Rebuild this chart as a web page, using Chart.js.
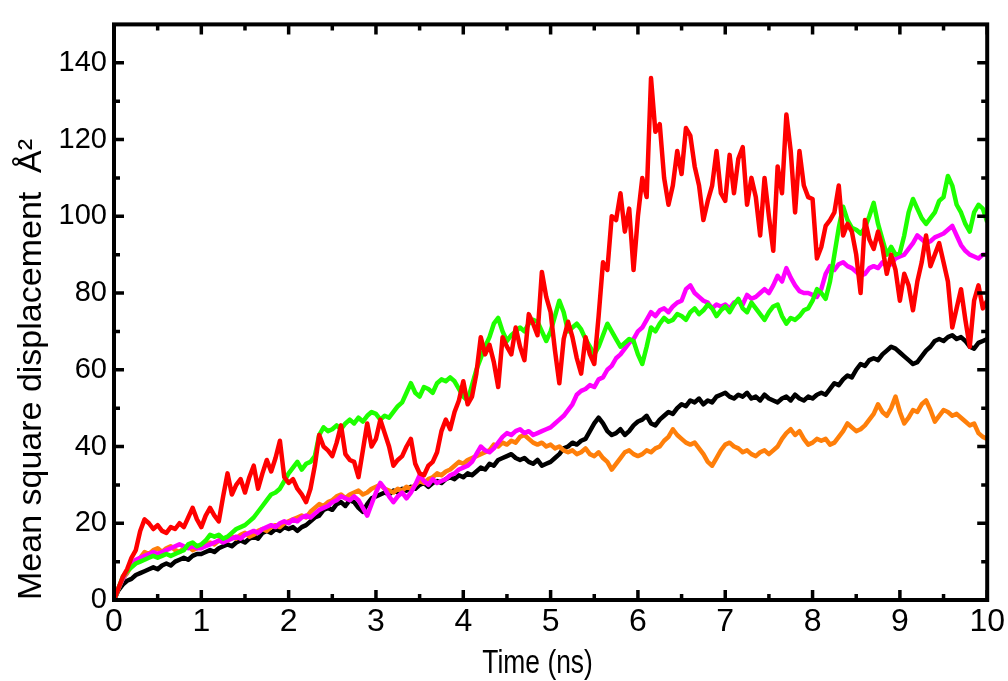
<!DOCTYPE html>
<html>
<head>
<meta charset="utf-8">
<title>Mean square displacement</title>
<script src="https://cdn.jsdelivr.net/npm/chart.js@4.4.1/dist/chart.umd.min.js"></script>
<style>
  html, body { margin: 0; padding: 0; background: #ffffff; }
  canvas { display: block; }
</style>
</head>
<body>
<canvas id="msd" width="1008" height="681"></canvas>
<script>
// Sampling interval of the trajectories (ns)
const sampleStepNs = 0.05;

// Axis tick values and titles
const xMajorTicks = [0, 1, 2, 3, 4, 5, 6, 7, 8, 9, 10];
const xMinorTicks = [0.5, 1.5, 2.5, 3.5, 4.5, 5.5, 6.5, 7.5, 8.5, 9.5];
const yMajorTicks = [0, 20, 40, 60, 80, 100, 120, 140];
const yMinorTicks = [10, 30, 50, 70, 90, 110, 130];
const xAxisTitle = 'Time (ns)';
const yAxisTitle = 'Mean square displacement  Å²';

// MSD (Å²), one value every 0.05 ns from 0 to 10 ns
const blackMsd = [
  0, 2.5, 4, 5, 5.5, 6.5, 7, 7.5, 8, 8.5, 8, 9, 9.5, 9, 10, 10.5, 11, 10.5, 11.5, 12,
  12, 12.5, 13, 12.5, 13.5, 14, 14.5, 14, 15, 15.5, 15, 16, 16.5, 16, 17.5, 18, 17.5, 18.5, 18, 19,
  18.5, 19, 18, 19, 19.5, 20.5, 21.5, 22, 23.5, 24, 23.5, 25, 25.5, 24.5, 26, 25.5, 24, 23, 25, 26.5,
  27, 27.5, 28, 27.5, 28.5, 28, 29, 28.5, 29.5, 29, 30, 30.5, 29.5, 30.5, 31, 30.5, 31.5, 32, 31.5, 32.5,
  32, 33, 32.5, 33.5, 34.5, 34, 35.5, 35, 36.5, 37, 37.5, 38, 37, 36.5, 37, 36, 35.5, 36.5, 35, 35.5,
  36, 37, 38, 39.5, 40, 41, 40.5, 41.5, 42, 44, 46, 47.5, 46, 44, 43, 43.5, 44.5, 43, 44, 45.5,
  46.5, 47, 48, 46, 45.5, 47, 48, 49, 48.5, 50, 51, 50.5, 52, 51.5, 52.5, 51, 52, 51.5, 53, 53.5,
  54, 53, 52.5, 53.5, 53, 54, 52.5, 53, 52, 53.5, 52.5, 52, 51.5, 52.5, 53, 52, 53.5, 52.5, 52, 53,
  52.5, 53.5, 54, 53.5, 55, 56.5, 56, 57.5, 58.5, 58, 60, 61.5, 61, 62.5, 63, 62.5, 64, 65, 66, 65.5,
  64.5, 63.5, 62.5, 61.5, 62, 63.5, 65, 66, 67.5, 68, 67.5, 68.5, 69, 68, 68.5, 67.5, 66, 65.5, 67, 67.5,
  68
];

const orangeMsd = [
  0, 3, 5.5, 7, 9, 10, 11, 12.5, 12, 13, 13.5, 12.5, 13.5, 14, 13, 12.5, 13.5, 14, 13, 13.5,
  14, 14.5, 15, 14.5, 15.5, 16, 15.5, 16.5, 16, 17, 17.5, 16.5, 17, 18, 18.5, 18, 19, 19.5, 19, 20,
  20.5, 21, 21.5, 22, 21.5, 23, 24, 25, 24.5, 25.5, 26, 27, 27.5, 26.5, 27.5, 28, 28.5, 27.5, 28, 29,
  29.5, 30, 29, 28.5, 28, 29, 28.5, 29.5, 29, 30, 31, 30.5, 31.5, 32, 33, 32.5, 33.5, 34, 35, 36,
  35.5, 36.5, 37, 37.5, 38, 38.5, 39, 40.5, 40, 41, 40.5, 41.5, 41, 42.5, 43, 42, 41, 40.5, 41, 40,
  40.5, 39.5, 40, 39, 38.5, 39, 38, 38.5, 39.5, 38, 37.5, 38.5, 37, 36, 34, 35.5, 37, 38.5, 39, 38,
  37.5, 38, 39, 38.5, 39.5, 40, 41.5, 42.5, 44.5, 43, 42, 41, 40.5, 41, 39.5, 38, 36, 35, 37, 39,
  40.5, 41, 40, 39.5, 38.5, 39, 38, 37.5, 38.5, 39, 38, 39, 40, 42, 43.5, 44.5, 43, 44, 42, 40.5,
  41, 42, 41.5, 42, 40.5, 41, 42.5, 44, 46, 45, 44, 44.5, 45.5, 47, 48.5, 51, 49, 48, 50, 53,
  49, 46, 47.5, 49.5, 49, 51, 52, 49.5, 46.5, 48, 49.5, 49, 48, 48.5, 47.5, 46.5, 45.5, 46, 43.5, 42.5,
  42
];

const magentaMsd = [
  0, 3, 5.5, 7.5, 9, 10.5, 11, 11.5, 12, 12.5, 12, 12.5, 13, 13.5, 14, 14.5, 14, 13.5, 14, 13.5,
  13.5, 14, 14.5, 15, 15.5, 15, 15.5, 16, 16.5, 16, 17, 17.5, 18, 17.5, 18.5, 19, 19.5, 19, 20, 20.5,
  20, 21, 20.5, 21.5, 22, 21.5, 22.5, 23.5, 24, 24.5, 25.5, 26, 27, 26.5, 26, 27, 26, 24, 22, 25,
  28, 30.5, 29, 27, 25.5, 27, 28, 26.5, 28, 30, 32.5, 31, 30, 31.5, 30.5, 31, 31.5, 32.5, 33, 34,
  34.5, 35, 36, 38, 40, 39, 38.5, 39.5, 41, 42.5, 43.5, 43, 44, 44.5, 43.5, 44, 43, 43.5, 44, 44.5,
  45, 46, 47, 48, 49.5, 51, 53.5, 54.5, 55, 56, 55.5, 57.5, 58, 60, 61, 63, 64, 65.5, 67, 68,
  70, 71, 73, 75, 74, 75.5, 76, 75, 76.5, 77.5, 78, 81, 82, 80, 79, 78, 77.5, 76, 77, 76.5,
  77, 76, 77.5, 78, 77, 79.5, 78.5, 79, 80, 81, 80, 82, 84.5, 83, 86.5, 84, 82, 80.5, 80, 80,
  79.5, 79, 81, 85, 87, 86, 87.5, 88, 87, 86.5, 85.5, 84.5, 85, 86.5, 87, 86.5, 88, 87, 87.5, 89,
  89.5, 90, 91.5, 93, 95, 94, 93, 93.5, 94.5, 95, 95.5, 96.5, 97.5, 95, 92.5, 91, 90, 89.5, 89, 90,
  90
];

const greenMsd = [
  0, 3, 6, 7.5, 8.5, 9.5, 10, 10.5, 11, 11.5, 11, 11.5, 12, 11.5, 12, 12.5, 13, 14.5, 15, 14,
  14.5, 15.5, 17, 16.5, 17, 16, 16.5, 17.5, 18.5, 19, 19.5, 20.5, 21.5, 23, 24.5, 26, 27.5, 28, 29, 31,
  33, 34.5, 36, 34, 35.5, 36, 37.5, 43, 45, 44, 44.5, 45.5, 44.5, 46, 47, 46, 47.5, 46.5, 48, 49,
  48.5, 47, 48, 47.5, 49, 50.5, 51.5, 54, 56.5, 54, 53, 55.5, 55, 54, 56.5, 57.5, 57, 58, 57, 55,
  53, 52, 56, 60, 63, 66, 68.5, 72, 73.5, 70, 67.5, 69, 70, 71, 70, 72, 73, 72.5, 70, 67.5,
  70, 74, 78, 75, 70, 71, 72, 70.5, 68, 66, 64, 66, 69, 72, 70, 68, 66, 67, 68, 67.5,
  64, 61.5, 66, 71, 70, 72, 73.5, 72.5, 73, 74.5, 74, 73, 75, 76, 74.5, 75.5, 77, 76, 74, 75.5,
  76.5, 75, 77, 78.5, 76, 75, 77.5, 76, 74.5, 73, 75, 76.5, 77, 74, 72, 73.5, 73, 74, 75.5, 76,
  78, 81, 80, 78.5, 83, 90, 97, 102.5, 99, 97, 96.5, 95.5, 97, 100, 103.5, 98, 94, 90, 92, 90,
  90.5, 95, 101, 104.5, 102, 99.5, 98, 99.5, 101, 104, 105, 110.5, 108, 103, 101, 98, 96, 101, 103, 102,
  98.5
];

const redMsd = [
  0, 3, 6, 8, 11, 13, 18, 21, 20, 18.5, 19.5, 18, 17.5, 19, 18.5, 20, 19, 21.5, 24, 21,
  19, 22, 24, 22, 20.5, 27, 33, 27.5, 30, 31.5, 28, 32, 35, 29, 33, 36.5, 33.5, 37, 41.5, 32,
  30.5, 31.5, 29, 27.5, 25.5, 29, 35, 43, 40, 39, 37.5, 41, 45.5, 38, 36.5, 36, 32, 39, 46, 40,
  42, 47, 43.5, 40, 35, 36.5, 37.5, 40, 42, 35.5, 33, 32.5, 35, 36, 38.5, 44, 47, 44.5, 49, 52,
  57, 51, 53, 59, 68.5, 64, 66.5, 62, 55.5, 68.5, 66, 64, 71, 66, 62.5, 74.5, 72, 69, 85.5, 79,
  75, 65, 56.5, 68, 72.5, 68.5, 63, 59, 68.5, 64, 61.5, 74, 88, 86, 100, 99, 106, 96, 102, 86,
  100, 110, 105, 136, 122, 124, 110, 103, 108, 117, 111, 123, 121, 113, 108, 99, 104, 108, 117, 106,
  104, 116, 106, 115, 118, 103, 110, 105, 95, 110, 100, 91, 113, 106, 126.5, 117, 101, 117, 108, 105,
  104.5, 89, 92, 97.5, 99, 101, 108, 95, 98, 96, 90, 80, 99, 94, 91.5, 96, 92, 85, 90, 86,
  78, 85, 82, 75.5, 83, 88, 95, 87, 90, 93, 88, 83, 71, 76, 81, 73, 66, 78, 82, 76,
  78
];

// Time axis for the samples above
const timeNs = blackMsd.map((_, i) => Math.round(i * sampleStepNs * 100) / 100);

function toPoints(values) {
  return values.map((v, i) => ({ x: timeNs[i], y: v }));
}

// Series listed top-most first
const seriesList = [
  { values: redMsd, color: '#ff0000' },
  { values: greenMsd, color: '#1eff00' },
  { values: magentaMsd, color: '#ff00ff' },
  { values: orangeMsd, color: '#ff7f0a' },
  { values: blackMsd, color: '#000000' }
];

const FONT = "'Liberation Sans', Arial, Helvetica, sans-serif";

// Boxed frame with inward tick marks on all four sides
const frameTicks = {
  id: 'frameTicks',
  afterDatasetsDraw(chart) {
    const { ctx, chartArea: a, scales } = chart;
    const x = scales.x, y = scales.y;
    const majorLen = 10, minorLen = 6;
    ctx.save();
    ctx.strokeStyle = '#000';
    ctx.lineCap = 'butt';
    ctx.lineWidth = 3.5;
    ctx.beginPath();
    const xTick = (v, len) => {
      const px = x.getPixelForValue(v);
      ctx.moveTo(px, a.bottom); ctx.lineTo(px, a.bottom - len);
      ctx.moveTo(px, a.top); ctx.lineTo(px, a.top + len);
    };
    const yTick = (v, len) => {
      const py = y.getPixelForValue(v);
      ctx.moveTo(a.left, py); ctx.lineTo(a.left + len, py);
      ctx.moveTo(a.right, py); ctx.lineTo(a.right - len, py);
    };
    xMajorTicks.forEach(v => xTick(v, majorLen));
    xMinorTicks.forEach(v => xTick(v, minorLen));
    yMajorTicks.forEach(v => yTick(v, majorLen));
    yMinorTicks.forEach(v => yTick(v, minorLen));
    ctx.stroke();
    ctx.lineWidth = 4;
    ctx.strokeRect(a.left, a.top, a.right - a.left, a.bottom - a.top);
    ctx.restore();
  }
};

// Horizontal axis title in a condensed setting, under the tick labels
const xTitle = {
  id: 'xTitle',
  afterDraw(chart) {
    const { ctx, chartArea: a } = chart;
    ctx.save();
    ctx.fillStyle = '#000';
    ctx.font = '33px ' + FONT;
    ctx.textAlign = 'center';
    ctx.textBaseline = 'middle';
    ctx.translate((a.left + a.right) / 2 - 13, 664);
    ctx.scale(0.8, 1);
    ctx.fillText(xAxisTitle, 0, 0);
    ctx.restore();
  }
};

new Chart(document.getElementById('msd'), {
  type: 'line',
  data: {
    datasets: seriesList.map(s => ({
      data: toPoints(s.values),
      borderColor: s.color,
      backgroundColor: s.color,
      borderWidth: 4.5,
      borderJoinStyle: 'round',
      pointRadius: 0,
      tension: 0,
      fill: false
    }))
  },
  options: {
    responsive: false,
    animation: false,
    devicePixelRatio: 1,
    layout: { padding: { left: 0, top: 17, right: 20, bottom: 0 } },
    plugins: { legend: { display: false }, tooltip: { enabled: false } },
    scales: {
      x: {
        type: 'linear',
        min: 0,
        max: 10,
        afterBuildTicks: s => { s.ticks = xMajorTicks.map(v => ({ value: v })); },
        afterFit: s => { s.height = 81; },
        grid: { display: false, drawTicks: false },
        border: { display: false },
        ticks: {
          color: '#000',
          padding: 3,
          maxRotation: 0,
          font: { family: FONT, size: 32 },
          callback: v => String(v)
        },
        title: { display: false }
      },
      y: {
        type: 'linear',
        min: 0,
        max: 150,
        afterBuildTicks: s => { s.ticks = yMajorTicks.map(v => ({ value: v })); },
        afterFit: s => { s.width = 114; },
        grid: { display: false, drawTicks: false },
        border: { display: false },
        ticks: {
          color: '#000',
          padding: 7,
          font: { family: FONT, size: 29 },
          callback: v => String(v)
        },
        title: {
          display: true,
          text: yAxisTitle,
          align: 'start',
          color: '#000',
          font: { family: FONT, size: 34, lineHeight: 1 },
          padding: { top: 15, bottom: 0 }
        }
      }
    }
  },
  plugins: [frameTicks, xTitle]
});
</script>
</body>
</html>
